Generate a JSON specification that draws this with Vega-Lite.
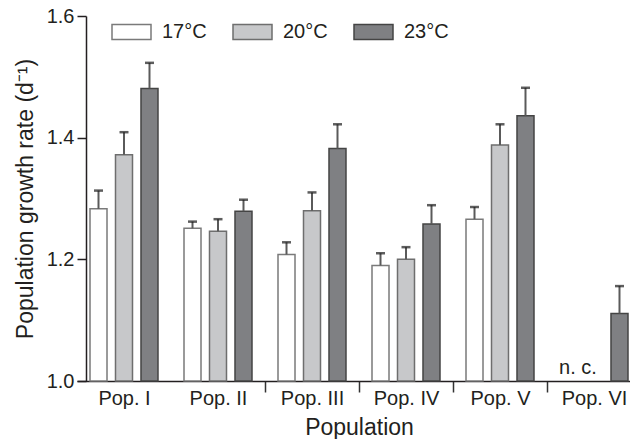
{
  "$schema": "https://vega.github.io/schema/vega-lite/v6.json",
  "autosize": "none",
  "padding": {"left": 86, "top": 16, "right": 0, "bottom": 58},
  "width": 544,
  "height": 365,
  "config": {
    "view": {"stroke": null},
    "font": "Liberation Sans",
    "axis": {"labelFont": "Liberation Sans", "titleFont": "Liberation Sans", "labelColor": "#231f20", "titleColor": "#231f20", "titleFontWeight": "normal", "grid": false}
  },
  "data": {
    "values": [
      {"pop": "Pop. I", "temp": "17°C", "value": 1.283, "upper": 1.313},
      {"pop": "Pop. I", "temp": "20°C", "value": 1.372, "upper": 1.409},
      {"pop": "Pop. I", "temp": "23°C", "value": 1.481, "upper": 1.523},
      {"pop": "Pop. II", "temp": "17°C", "value": 1.251, "upper": 1.262},
      {"pop": "Pop. II", "temp": "20°C", "value": 1.246, "upper": 1.266},
      {"pop": "Pop. II", "temp": "23°C", "value": 1.279, "upper": 1.298},
      {"pop": "Pop. III", "temp": "17°C", "value": 1.208, "upper": 1.228},
      {"pop": "Pop. III", "temp": "20°C", "value": 1.280, "upper": 1.310},
      {"pop": "Pop. III", "temp": "23°C", "value": 1.382, "upper": 1.422},
      {"pop": "Pop. IV", "temp": "17°C", "value": 1.190, "upper": 1.210},
      {"pop": "Pop. IV", "temp": "20°C", "value": 1.200, "upper": 1.220},
      {"pop": "Pop. IV", "temp": "23°C", "value": 1.258, "upper": 1.289},
      {"pop": "Pop. V", "temp": "17°C", "value": 1.266, "upper": 1.286},
      {"pop": "Pop. V", "temp": "20°C", "value": 1.388, "upper": 1.422},
      {"pop": "Pop. V", "temp": "23°C", "value": 1.436, "upper": 1.482},
      {"pop": "Pop. VI", "temp": "23°C", "value": 1.111, "upper": 1.156}
    ]
  },
  "encoding": {
    "x": {
      "field": "pop", "type": "nominal", "sort": null, "title": "Population",
      "scale": {"range": [-9, 555], "paddingInner": 0, "paddingOuter": 0},
      "axis": {
        "labelAngle": 0, "labelFontSize": 20, "titleFontSize": 23,
        "tickBand": "extent", "tickSize": 11, "tickWidth": 1.5,
        "tickColor": {"condition": {"test": "!(datum.index > 0)", "value": "transparent"}, "value": "#333333"},
        "domainColor": "#231f20", "domainWidth": 1.5,
        "labelPadding": -4, "titlePadding": 8
      }
    },
    "xOffset": {"field": "temp", "type": "nominal", "sort": ["17°C", "20°C", "23°C"], "scale": {"domain": ["17°C", "20°C", "23°C"], "paddingInner": 0.333, "paddingOuter": 0.51}}
  },
  "layer": [
    {
      "mark": {"type": "bar", "strokeWidth": 1.5},
      "encoding": {
        "y": {
          "field": "value", "type": "quantitative", "title": "Population growth rate (d⁻¹)",
          "scale": {"domain": [1.0, 1.6], "zero": false, "nice": false},
          "axis": {"values": [1.0, 1.2, 1.4, 1.6], "format": ".1f", "labelFontSize": 20, "titleFontSize": 23,
            "tickSize": 9, "tickWidth": 1.5, "tickColor": "#231f20", "domainColor": "#231f20", "domainWidth": 1.5,
            "labelPadding": 3, "titlePadding": 9}
        },
        "y2": {"datum": 1.0},
        "fill": {
          "field": "temp", "type": "nominal", "title": null,
          "scale": {"domain": ["17°C", "20°C", "23°C"], "range": ["#ffffff", "#c7c8ca", "#7f8083"]},
          "legend": {
            "orient": "none", "direction": "horizontal", "legendX": 25, "legendY": -5, "padding": 0,
            "symbolType": "M-1,-0.385H1V0.385H-1Z", "symbolSize": 1521, "symbolStrokeWidth": 1.5,
            "labelFontSize": 20, "labelColor": "#231f20", "labelOffset": 10, "columnPadding": 23, "labelLimit": 200
          }
        },
        "stroke": {
          "field": "temp", "type": "nominal",
          "scale": {"domain": ["17°C", "20°C", "23°C"], "range": ["#7a7a7a", "#6e6e6e", "#444444"]},
          "legend": null
        }
      }
    },
    {
      "mark": {"type": "rule", "strokeWidth": 2, "color": "#5a5a5a"},
      "encoding": {
        "y": {"field": "value", "type": "quantitative"},
        "y2": {"field": "upper"}
      }
    },
    {
      "mark": {"type": "tick", "thickness": 2.5, "size": 9, "color": "#1a1a1a", "orient": "horizontal"},
      "encoding": {
        "y": {"field": "upper", "type": "quantitative"}
      }
    },
    {
      "data": {"values": [{"pop": "Pop. VI", "label": "n. c.", "base": 1.0}]},
      "mark": {"type": "text", "fontSize": 20, "dx": -16, "dy": -7, "baseline": "alphabetic", "align": "center", "color": "#231f20"},
      "encoding": {
        "xOffset": null,
        "y": {"field": "base", "type": "quantitative"},
        "text": {"field": "label"}
      }
    }
  ]
}
